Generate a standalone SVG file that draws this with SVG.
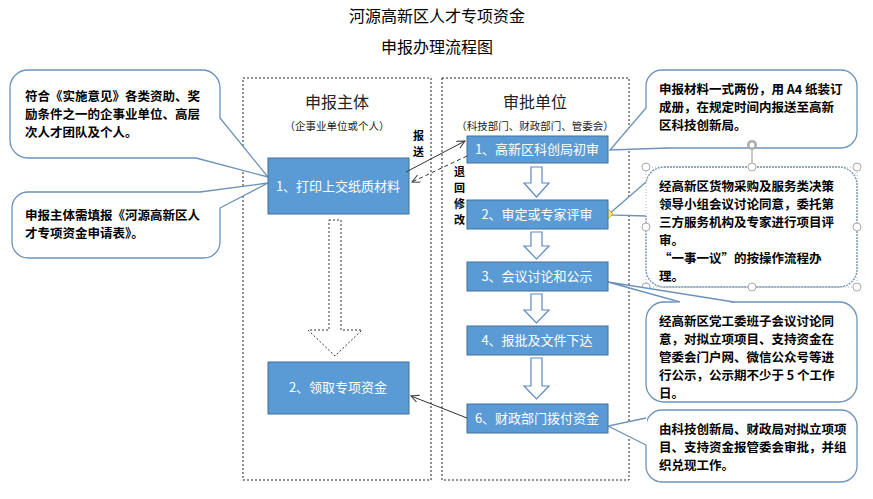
<svg xmlns="http://www.w3.org/2000/svg" width="873" height="499" viewBox="0 0 873 499">
<style>
text{font-family:"Noto Sans CJK SC","Liberation Sans",sans-serif}
.t{font-size:16px;fill:#000}
.h{font-size:16px;fill:#222}
.s{font-size:10.5px;fill:#222}
.bx{fill:#5b9bd5;stroke:#41719c;stroke-width:1}
.bt{font-size:13px;fill:#fff}
.cont{fill:none;stroke:#222;stroke-dasharray:2,2;stroke-width:1}
.co{fill:#fff;stroke:#6d93ba;stroke-width:1.3}
.ct{font-size:12.5px;font-weight:bold;fill:#000}
.ha{fill:#fff;stroke:#5a8ac0;stroke-width:1.2}
.ln{stroke:#333;stroke-width:1;fill:none}
.hd{fill:#fff;stroke:#aaa;stroke-width:1}
.lb{font-size:11px;font-weight:bold;fill:#000}
</style>
<defs>
<marker id="ar" markerWidth="10" markerHeight="10" refX="8" refY="4" orient="auto" markerUnits="userSpaceOnUse"><path d="M0,0 L8,4 L0,8" fill="none" stroke="#333" stroke-width="1"/></marker>
</defs>
<rect width="873" height="499" fill="#fff"/>
<text class="t" x="437" y="22" text-anchor="middle">河源高新区人才专项资金</text>
<text class="t" x="437" y="53" text-anchor="middle">申报办理流程图</text>

<g id="container-left"><rect class="cont" x="243" y="78" width="188" height="402"/>
<text class="h" x="337" y="108" text-anchor="middle">申报主体</text>
<text class="s" x="337" y="130" text-anchor="middle">（企事业单位或个人）</text></g>
<g id="container-right"><rect class="cont" x="442" y="78" width="187" height="402"/>
<text class="h" x="535" y="108" text-anchor="middle">审批单位</text>
<text class="s" x="535" y="130" text-anchor="middle">（科技部门、财政部门、管委会）</text></g>

<g id="callout-tl"><rect class="co" x="10" y="70" width="210" height="88" rx="18"/>
<polygon points="219,118 268,177 196,157" fill="#fff"/><polyline class="co" fill="none" points="220,118 268,177 196,158"/>
<text class="ct" x="25" y="101">符合《实施意见》各类资助、奖</text>
<text class="ct" x="25" y="119">励条件之一的企事业单位、高层</text>
<text class="ct" x="25" y="137">次人才团队及个人。</text></g>
<g id="callout-bl"><rect class="co" x="12" y="192" width="208" height="66" rx="16"/>
<polygon points="200,193 268,183 219,208" fill="#fff"/><polyline class="co" fill="none" points="200,192 268,183 220,208"/>
<text class="ct" x="25" y="220">申报主体需填报《河源高新区人</text>
<text class="ct" x="25" y="238">才专项资金申请表》。</text></g>

<g id="callout-r1"><rect class="co" x="646" y="70" width="211" height="78" rx="16"/>
<polygon points="647,108 610,150 668,147" fill="#fff"/><polyline class="co" fill="none" points="646,108 610,150 668,148"/>
<text class="ct" x="659" y="94">申报材料一式两份，用 A4 纸装订</text>
<text class="ct" x="659" y="112">成册，在规定时间内报送至高新</text>
<text class="ct" x="659" y="130">区科技创新局。</text></g>

<g id="callout-r2"><rect class="co" x="646" y="167" width="211" height="120" rx="18" stroke-dasharray="2,1"/>
<polygon points="647,182 608,215 647,216" fill="#fff"/><polyline class="co" fill="none" points="646,182 608,215 646,216"/>
<text class="ct" x="659" y="191">经高新区货物采购及服务类决策</text>
<text class="ct" x="659" y="209">领导小组会议讨论同意，委托第</text>
<text class="ct" x="659" y="227">三方服务机构及专家进行项目评</text>
<text class="ct" x="659" y="245">审。</text>
<text class="ct" x="659" y="263">“一事一议”的按操作流程办</text>
<text class="ct" x="659" y="281">理。</text>
<rect x="646" y="167" width="211" height="120" fill="none" stroke="#999" stroke-dasharray="1,2" stroke-width="0.7"/>
<line x1="752" y1="148" x2="752" y2="167" stroke="#999"/>
<circle cx="752" cy="145" r="5" fill="#aaa"/><circle cx="752" cy="145" r="2.5" fill="#fff"/>
<circle class="hd" cx="646" cy="167" r="4"/><circle class="hd" cx="752" cy="167" r="4"/><circle class="hd" cx="857" cy="167" r="4"/>
<circle class="hd" cx="646" cy="227" r="4"/><circle class="hd" cx="857" cy="227" r="4"/>
<circle class="hd" cx="646" cy="287" r="4"/><circle class="hd" cx="752" cy="287" r="4"/><circle class="hd" cx="857" cy="287" r="4"/>
<polygon points="608,209 613,214 608,219 603,214" fill="#ffe666" stroke="#b8a000" stroke-width="0.7"/></g>

<g id="callout-r3"><rect class="co" x="646" y="302" width="211" height="100" rx="18"/>
<polygon points="680,303 608,282 734,303" fill="#fff"/><polyline class="co" fill="none" points="680,302 608,282 734,302"/>
<text class="ct" x="659" y="326">经高新区党工委班子会议讨论同</text>
<text class="ct" x="659" y="344">意，对拟立项项目、支持资金在</text>
<text class="ct" x="659" y="362">管委会门户网、微信公众号等进</text>
<text class="ct" x="659" y="380">行公示，公示期不少于 5 个工作</text>
<text class="ct" x="659" y="398">日。</text></g>

<g id="callout-r4"><rect class="co" x="646" y="410" width="211" height="72" rx="16"/>
<polygon points="647,418 608,426 647,445" fill="#fff"/><polyline class="co" fill="none" points="646,418 608,426 646,445"/>
<text class="ct" x="659" y="434">由科技创新局、财政局对拟立项项</text>
<text class="ct" x="659" y="452">目、支持资金报管委会审批，并组</text>
<text class="ct" x="659" y="470">织兑现工作。</text></g>

<g id="n-print"><rect class="bx" x="268" y="158" width="141" height="56"/><text class="bt" x="338" y="191" text-anchor="middle">1、打印上交纸质材料</text></g>
<g id="n-receive"><rect class="bx" x="268" y="362" width="141" height="52"/><text class="bt" x="338" y="392" text-anchor="middle">2、领取专项资金</text></g>
<g id="r1"><rect class="bx" x="467" y="136" width="141" height="27"/><text class="bt" x="537" y="154" text-anchor="middle">1、高新区科创局初审</text></g>
<g id="r2"><rect class="bx" x="467" y="200" width="141" height="29"/><text class="bt" x="537" y="219" text-anchor="middle">2、审定或专家评审</text></g>
<g id="r3"><rect class="bx" x="467" y="262" width="141" height="29"/><text class="bt" x="537" y="281" text-anchor="middle">3、会议讨论和公示</text></g>
<g id="r4"><rect class="bx" x="467" y="326" width="141" height="29"/><text class="bt" x="537" y="345" text-anchor="middle">4、报批及文件下达</text></g>
<g id="r6"><rect class="bx" x="467" y="404" width="141" height="29"/><text class="bt" x="537" y="423" text-anchor="middle">6、财政部门拨付资金</text></g>

<g id="connectors">
<polygon points="329,220 341,220 341,330 362,330 335,356 308,330 329,330" fill="#fff" stroke="#333" stroke-dasharray="2,2"/>
<polygon class="ha" points="531,167 542,167 542,183 549,183 536.5,197 524,183 531,183"/>
<polygon class="ha" points="531,232 542,232 542,246 549,246 536.5,259 524,246 531,246"/>
<polygon class="ha" points="531,294 542,294 542,310 549,310 536.5,323 524,310 531,310"/>
<polygon class="ha" points="531,358 542,358 542,386 549,386 536.5,399 524,386 531,386"/>
<line class="ln" x1="406" y1="172" x2="465" y2="141" marker-end="url(#ar)"/>
<line class="ln" x1="467" y1="156" x2="412" y2="182" stroke-dasharray="4,3" marker-end="url(#ar)"/>
<line class="ln" x1="467" y1="418" x2="411" y2="396" marker-end="url(#ar)"/>
<text class="lb" x="413" y="140">报</text><text class="lb" x="413" y="156">送</text>
<text class="lb" x="454" y="176">退</text><text class="lb" x="454" y="192">回</text><text class="lb" x="454" y="208">修</text><text class="lb" x="454" y="224">改</text>
</g>
</svg>
